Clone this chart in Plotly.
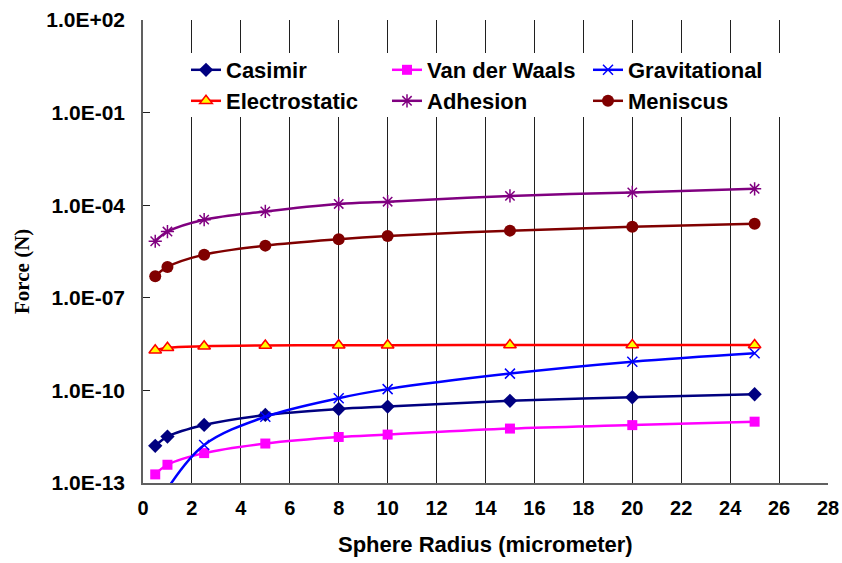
import plotly.graph_objects as go

# Sphere radius (micrometer)
radius = [0.5, 1, 2.5, 5, 8, 10, 15, 20, 25]

# Forces (N)
casimir = [1.6e-12, 3.2e-12, 7.6e-12, 1.6e-11, 2.5e-11, 3.0e-11, 4.6e-11, 6.0e-11, 7.5e-11]
van_der_waals = [1.9e-13, 3.9e-13, 9.3e-13, 1.9e-12, 3.1e-12, 3.7e-12, 5.8e-12, 7.5e-12, 9.7e-12]
gravitational = [1.1e-14, 6.5e-14, 1.7e-12, 1.4e-11, 5.6e-11, 1.1e-10, 3.5e-10, 8.5e-10, 1.6e-9]
electrostatic = [2.0e-9, 2.4e-9, 2.7e-9, 2.85e-9, 2.9e-9, 2.9e-9, 2.95e-9, 2.95e-9, 2.95e-9]
adhesion = [6.8e-6, 1.4e-5, 3.4e-5, 6.3e-5, 1.1e-4, 1.3e-4, 2.0e-4, 2.6e-4, 3.4e-4]
meniscus = [5.0e-7, 1.0e-6, 2.5e-6, 4.9e-6, 7.9e-6, 1.0e-5, 1.5e-5, 2.0e-5, 2.5e-5]

y_tick_vals = [1e2, 1e-1, 1e-4, 1e-7, 1e-10, 1e-13]
y_tick_text = ["1.0E+02", "1.0E-01", "1.0E-04", "1.0E-07", "1.0E-10", "1.0E-13"]

W, H = 842, 563
L, R, T, B = 143, 14, 20, 80
pw, ph = W - L - R, H - T - B


def px_x(p):
    return (p - L) / pw


def px_y(p):
    return (H - B - p) / ph


series = [
    ("Casimir", casimir, "#000080", dict(symbol="diamond", size=11, color="#000080")),
    ("Van der Waals", van_der_waals, "#FF00FF", dict(symbol="square", size=10, color="#FF00FF")),
    ("Gravitational", gravitational, "#0000FF",
     dict(symbol="x-thin-open", size=10, color="#0000FF", line=dict(width=1.5, color="#0000FF"))),
    ("Electrostatic", electrostatic, "#FF0000",
     dict(symbol="triangle-up", size=11, color="#FFFF00", line=dict(width=1.5, color="#FF0000"))),
    ("Adhesion", adhesion, "#800080",
     dict(symbol="asterisk-open", size=11, color="#800080", line=dict(width=1.5, color="#800080"))),
    ("Meniscus", meniscus, "#800000", dict(symbol="circle", size=12, color="#800000")),
]

# legend grid: three columns, two rows (left edge of each entry, top of each row)
legend_cols = [186, 387, 588]
legend_rows = [49, 80]

tick_font = dict(family="Liberation Sans, Arial, sans-serif", size=20, color="black", weight="bold")
legend_font = dict(family="Liberation Sans, Arial, sans-serif", size=22, color="black", weight="bold")

fig = go.Figure()
legend_layout = {}
for i, (name, vals, col, mk) in enumerate(series):
    key = "legend" if i == 0 else f"legend{i + 1}"
    fig.add_trace(go.Scatter(
        x=radius, y=vals, name=name, mode="lines+markers",
        line=dict(color=col, width=2.5, shape="spline"),
        marker=mk, legend=key,
    ))
    legend_layout[key] = dict(
        orientation="h", x=px_x(legend_cols[i % 3]), y=px_y(legend_rows[i // 3]),
        xanchor="left", yanchor="top", font=legend_font, bgcolor="rgba(0,0,0,0)",
    )

fig.update_layout(
    width=W, height=H,
    margin=dict(l=L, r=R, t=T, b=B, autoexpand=False),
    paper_bgcolor="white", plot_bgcolor="white",
    showlegend=True,
    xaxis=dict(range=[0, 28], dtick=2, tick0=0, showgrid=True, gridcolor="#202020", gridwidth=1,
               showline=True, linecolor="#606060", linewidth=1.5, ticks="",
               tickfont=tick_font, ticklabelstandoff=6, zeroline=False, automargin=False),
    yaxis=dict(type="log", range=[-13, 2], tickvals=y_tick_vals, ticktext=y_tick_text,
               showgrid=False, showline=True, linecolor="#606060", linewidth=1.5,
               ticks="inside", ticklen=7, tickcolor="#202020", tickwidth=1,
               tickfont=dict(tick_font, size=21), ticklabelstandoff=12, zeroline=False,
               automargin=False),
    shapes=[dict(type="rect", xref="paper", yref="paper",
                 x0=px_x(176), x1=px_x(790), y0=px_y(117), y1=px_y(53),
                 fillcolor="white", line=dict(width=0), layer="above")],
    annotations=[
        dict(text="Sphere Radius (micrometer)", xref="paper", yref="paper",
             x=px_x(485), y=px_y(544), showarrow=False, xanchor="center", yanchor="middle",
             font=dict(family="Liberation Sans, Arial, sans-serif", size=22, color="black", weight="bold")),
        dict(text="Force (N)", xref="paper", yref="paper", textangle=-90,
             x=px_x(22), y=px_y(272), showarrow=False, xanchor="center", yanchor="middle",
             font=dict(family="Liberation Serif, Times New Roman, serif", size=21, color="black", weight="bold")),
    ],
    **legend_layout,
)

fig.write_html("out.html")
